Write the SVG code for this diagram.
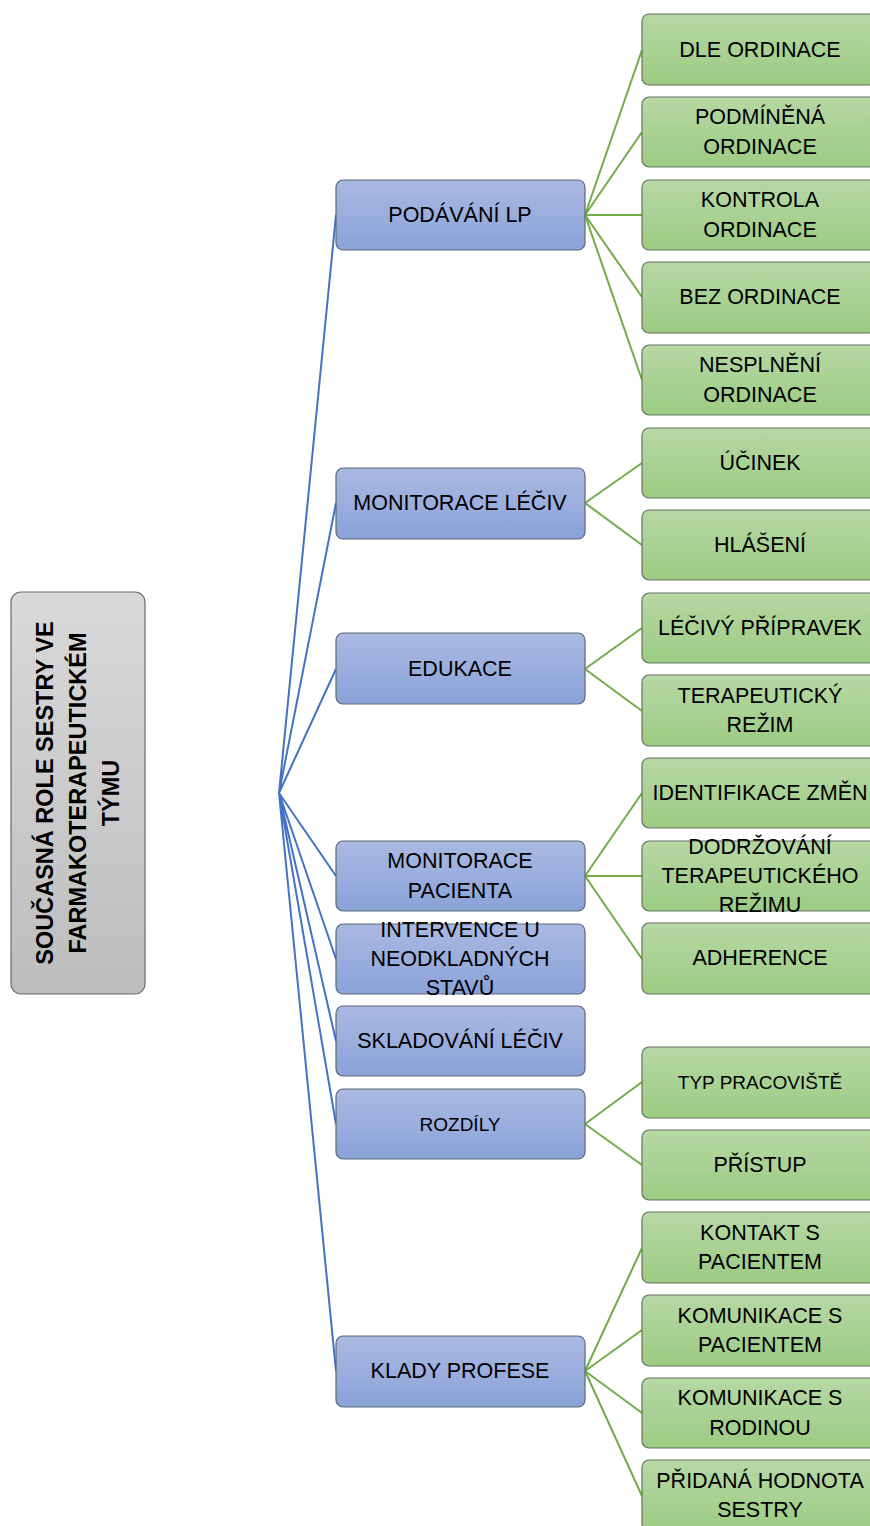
<svg xmlns="http://www.w3.org/2000/svg" width="870" height="1526" viewBox="0 0 870 1526">
<defs>
<linearGradient id="gBlue" x1="0" y1="0" x2="0" y2="1"><stop offset="0" stop-color="#abb9e2"/><stop offset="1" stop-color="#8aa2d9"/></linearGradient>
<linearGradient id="gGreen" x1="0" y1="0" x2="0" y2="1"><stop offset="0" stop-color="#b7d8a5"/><stop offset="1" stop-color="#9ccb83"/></linearGradient>
<linearGradient id="gGray" x1="0" y1="0" x2="0" y2="1"><stop offset="0" stop-color="#d9d9d9"/><stop offset="1" stop-color="#bdbdbd"/></linearGradient>
</defs>
<style>
.b{fill:url(#gBlue);stroke:#5f6675;stroke-width:1.2}
.g{fill:url(#gGreen);stroke:#667060;stroke-width:1.2}
.r{fill:url(#gGray);stroke:#6b6b6b;stroke-width:1.2}
text{font-family:"Liberation Sans",Arial,sans-serif;font-size:21.5px;fill:#000;text-anchor:middle;dominant-baseline:central}
.sm{font-size:19px}
.rt{font-weight:bold;font-size:23.5px}
.lb{stroke:#4472c4;stroke-width:2;fill:none}
.lg{stroke:#70ad47;stroke-width:2;fill:none}
</style>
<g id="connectors">
<path class="lb" d="M279,793L336,215M279,793L336,503M279,793L336,669M279,793L336,876M279,793L336,959M279,793L336,1041M279,793L336,1124M279,793L336,1371"/>
<path class="lg" d="M585,215L642,50M585,215L642,132M585,215L642,215M585,215L642,297M585,215L642,380"/>
<path class="lg" d="M585,503L642,463M585,503L642,545"/>
<path class="lg" d="M585,669L642,628M585,669L642,711"/>
<path class="lg" d="M585,876L642,793M585,876L642,876M585,876L642,959"/>
<path class="lg" d="M585,1124L642,1082M585,1124L642,1165"/>
<path class="lg" d="M585,1371L642,1248M585,1371L642,1330M585,1371L642,1413M585,1371L642,1496"/>
</g>
<g id="root"><rect class="r" x="11" y="592" width="134" height="402" rx="10"/>
<text class="rt" transform="translate(78,793) rotate(-90)"><tspan x="0" y="-33">SOUČASNÁ ROLE SESTRY VE</tspan><tspan x="0" y="0">FARMAKOTERAPEUTICKÉM</tspan><tspan x="0" y="33">TÝMU</tspan></text></g>
<g id="n-podavani"><rect class="b" x="336" y="180" width="249" height="70" rx="7"/><text x="460" y="215">PODÁVÁNÍ LP</text></g>
<g id="n-monleciv"><rect class="b" x="336" y="468" width="249" height="71" rx="7"/><text x="460" y="503">MONITORACE LÉČIV</text></g>
<g id="n-edukace"><rect class="b" x="336" y="633" width="249" height="71" rx="7"/><text x="460" y="669">EDUKACE</text></g>
<g id="n-monpac"><rect class="b" x="336" y="841" width="249" height="70" rx="7"/><text x="460" y="861">MONITORACE</text><text x="460" y="891">PACIENTA</text></g>
<g id="n-intervence"><rect class="b" x="336" y="924" width="249" height="70" rx="7"/><text x="460" y="930">INTERVENCE U</text><text x="460" y="959">NEODKLADNÝCH</text><text x="460" y="988">STAVŮ</text></g>
<g id="n-skladovani"><rect class="b" x="336" y="1006" width="249" height="70" rx="7"/><text x="460" y="1041">SKLADOVÁNÍ LÉČIV</text></g>
<g id="n-rozdily"><rect class="b" x="336" y="1089" width="249" height="70" rx="7"/><text class="sm" x="460" y="1124">ROZDÍLY</text></g>
<g id="n-klady"><rect class="b" x="336" y="1336" width="249" height="71" rx="7"/><text x="460" y="1371">KLADY PROFESE</text></g>
<g id="n-dle"><rect class="g" x="642" y="14" width="250" height="71" rx="7"/><text x="760" y="50">DLE ORDINACE</text></g>
<g id="n-podminena"><rect class="g" x="642" y="97" width="250" height="70" rx="7"/><text x="760" y="117">PODMÍNĚNÁ</text><text x="760" y="147">ORDINACE</text></g>
<g id="n-kontrola"><rect class="g" x="642" y="180" width="250" height="70" rx="7"/><text x="760" y="200">KONTROLA</text><text x="760" y="230">ORDINACE</text></g>
<g id="n-bez"><rect class="g" x="642" y="262" width="250" height="71" rx="7"/><text x="760" y="297">BEZ ORDINACE</text></g>
<g id="n-nesplneni"><rect class="g" x="642" y="345" width="250" height="70" rx="7"/><text x="760" y="365">NESPLNĚNÍ</text><text x="760" y="395">ORDINACE</text></g>
<g id="n-ucinek"><rect class="g" x="642" y="428" width="250" height="70" rx="7"/><text x="760" y="463">ÚČINEK</text></g>
<g id="n-hlaseni"><rect class="g" x="642" y="510" width="250" height="70" rx="7"/><text x="760" y="545">HLÁŠENÍ</text></g>
<g id="n-lecivy"><rect class="g" x="642" y="593" width="250" height="70" rx="7"/><text x="760" y="628">LÉČIVÝ PŘÍPRAVEK</text></g>
<g id="n-terapeuticky"><rect class="g" x="642" y="675" width="250" height="71" rx="7"/><text x="760" y="696">TERAPEUTICKÝ</text><text x="760" y="725">REŽIM</text></g>
<g id="n-identifikace"><rect class="g" x="642" y="758" width="250" height="70" rx="7"/><text x="760" y="793">IDENTIFIKACE ZMĚN</text></g>
<g id="n-dodrzovani"><rect class="g" x="642" y="841" width="250" height="70" rx="7"/><text x="760" y="847">DODRŽOVÁNÍ</text><text x="760" y="876">TERAPEUTICKÉHO</text><text x="760" y="905">REŽIMU</text></g>
<g id="n-adherence"><rect class="g" x="642" y="923" width="250" height="71" rx="7"/><text x="760" y="958">ADHERENCE</text></g>
<g id="n-typ"><rect class="g" x="642" y="1047" width="250" height="71" rx="7"/><text class="sm" x="760" y="1082">TYP PRACOVIŠTĚ</text></g>
<g id="n-pristup"><rect class="g" x="642" y="1130" width="250" height="70" rx="7"/><text x="760" y="1165">PŘÍSTUP</text></g>
<g id="n-kontakt"><rect class="g" x="642" y="1212" width="250" height="71" rx="7"/><text x="760" y="1233">KONTAKT S</text><text x="760" y="1262">PACIENTEM</text></g>
<g id="n-kompac"><rect class="g" x="642" y="1295" width="250" height="71" rx="7"/><text x="760" y="1316">KOMUNIKACE S</text><text x="760" y="1345">PACIENTEM</text></g>
<g id="n-komrod"><rect class="g" x="642" y="1378" width="250" height="70" rx="7"/><text x="760" y="1398">KOMUNIKACE S</text><text x="760" y="1428">RODINOU</text></g>
<g id="n-pridana"><rect class="g" x="642" y="1460" width="250" height="71" rx="7"/><text x="760" y="1481">PŘIDANÁ HODNOTA</text><text x="760" y="1510">SESTRY</text></g>
</svg>
